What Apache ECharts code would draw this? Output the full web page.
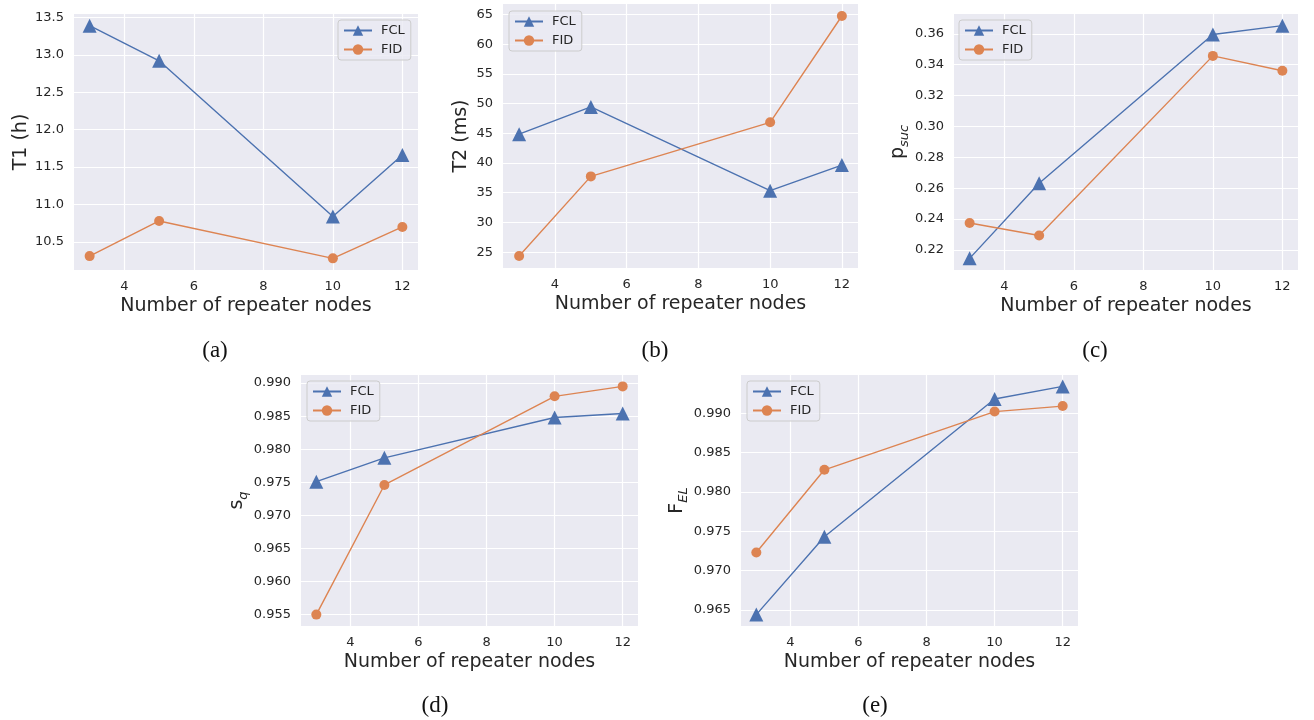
<!DOCTYPE html>
<html>
<head>
<meta charset="utf-8">
<script src="https://cdn.jsdelivr.net/npm/echarts@6/dist/echarts.min.js"></script>
<style>
html,body{margin:0;padding:0;background:#fff;}
#chart{width:1314px;height:720px;}
</style>
</head>
<body>
<div id="chart"></div>
<script>
// ---- data ----
const nodes = [3, 5, 10, 12];
const xTicks = [4, 6, 8, 10, 12];

const t1_FCL = [13.39, 12.92, 10.84, 11.66];
const t1_FID = [10.31, 10.78, 10.28, 10.70];
const t1_ticks = [10.5, 11.0, 11.5, 12.0, 12.5, 13.0, 13.5];

const t2_FCL = [44.85, 49.45, 35.35, 39.65];
const t2_FID = [24.35, 37.75, 46.85, 64.75];
const t2_ticks = [25, 30, 35, 40, 45, 50, 55, 60, 65];

const psuc_FCL = [0.2145, 0.2632, 0.3596, 0.3653];
const psuc_FID = [0.2374, 0.2293, 0.3457, 0.3361];
const psuc_ticks = [0.22, 0.24, 0.26, 0.28, 0.30, 0.32, 0.34, 0.36];

const sq_FCL = [0.9751, 0.9787, 0.9848, 0.9854];
const sq_FID = [0.9550, 0.9746, 0.9880, 0.9895];
const sq_ticks = [0.955, 0.960, 0.965, 0.970, 0.975, 0.980, 0.985, 0.990];

const fel_FCL = [0.9644, 0.9743, 0.9918, 0.9934];
const fel_FID = [0.9723, 0.9828, 0.9902, 0.9909];
const fel_ticks = [0.965, 0.970, 0.975, 0.980, 0.985, 0.990];

const captions = ['(a)', '(b)', '(c)', '(d)', '(e)'];
const seriesNames = ['FCL', 'FID'];

// ---- style ----
const BLUE = '#4C72B0', ORANGE = '#DD8452';
const TXT = '#262626';
const FONT = 'DejaVu Sans';

const panels = [
  {fcl: t1_FCL, fid: t1_FID, ticks: t1_ticks, dec: 1, name: 'T1 (h)',
   grid: {left: 74, top: 14, width: 344, height: 256}, legend: {left: 338, top: 20}, nameGap: 43, cap: [215, 351]},
  {fcl: t2_FCL, fid: t2_FID, ticks: t2_ticks, dec: 0, name: 'T2 (ms)',
   grid: {left: 503, top: 4, width: 355, height: 264}, legend: {left: 509, top: 11}, nameGap: 32, cap: [655, 351]},
  {fcl: psuc_FCL, fid: psuc_FID, ticks: psuc_ticks, dec: 2, name: '{m|p}{s|suc}',
   grid: {left: 954, top: 14, width: 344, height: 256}, legend: {left: 959, top: 20}, nameGap: 42, cap: [1095, 351]},
  {fcl: sq_FCL, fid: sq_FID, ticks: sq_ticks, dec: 3, name: '{m|s}{s|q}',
   grid: {left: 301, top: 375, width: 337, height: 251}, legend: {left: 307, top: 381}, nameGap: 50, cap: [435, 706]},
  {fcl: fel_FCL, fid: fel_FID, ticks: fel_ticks, dec: 3, name: '{m|F}{s|EL}',
   grid: {left: 741, top: 375, width: 337, height: 251}, legend: {left: 747, top: 381}, nameGap: 50, cap: [875, 706]}
];

const grids = [], xAxes = [], yAxes = [], series = [], legends = [], graphics = [];

panels.forEach((p, i) => {
  grids.push(Object.assign({containLabel: false, backgroundColor: '#EAEAF2', show: true, borderWidth: 0}, p.grid));
  xAxes.push({
    type: 'value', gridIndex: i,
    min: 2.55, max: 12.45,
    name: 'Number of repeater nodes', nameLocation: 'middle', nameGap: 27,
    nameTextStyle: {fontFamily: FONT, fontSize: 19, color: TXT},
    axisLine: {show: false}, axisTick: {show: false, customValues: xTicks},
    axisLabel: {customValues: xTicks, fontFamily: FONT, fontSize: 13, color: TXT, margin: 10},
    splitLine: {show: true, lineStyle: {color: '#ffffff', width: 1.2}}
  });
  const all = p.fcl.concat(p.fid);
  const lo = Math.min.apply(null, all), hi = Math.max.apply(null, all);
  const pad = 0.05 * (hi - lo);
  yAxes.push({
    type: 'value', gridIndex: i,
    min: lo - pad, max: hi + pad,
    name: p.name, nameLocation: 'middle', nameRotate: 90, nameGap: p.nameGap,
    nameTextStyle: {fontFamily: FONT, fontSize: 19, color: TXT,
      rich: {
        m: {fontFamily: FONT, fontSize: 19, color: TXT, lineHeight: 26, verticalAlign: 'middle'},
        s: {fontFamily: FONT, fontSize: 13, fontStyle: 'italic', color: TXT, lineHeight: 14, verticalAlign: 'bottom'}
      }},
    axisLine: {show: false}, axisTick: {show: false, customValues: p.ticks},
    axisLabel: {customValues: p.ticks, fontFamily: FONT, fontSize: 13, color: TXT, margin: 10,
      formatter: v => v.toFixed(p.dec)},
    splitLine: {show: true, lineStyle: {color: '#ffffff', width: 1.2}}
  });
  [[p.fcl, 'FCL', BLUE, 'triangle', 14], [p.fid, 'FID', ORANGE, 'circle', 10]].forEach(([vals, nm, col, sym, sz]) => {
    series.push({
      type: 'line', name: nm, xAxisIndex: i, yAxisIndex: i,
      data: nodes.map((x, k) => [x, vals[k]]),
      symbol: sym, symbolSize: sz, showSymbol: true,
      lineStyle: {color: col, width: 1.4},
      itemStyle: {color: col, borderWidth: 0},
      emphasis: {disabled: true}, animation: false
    });
  });
  legends.push({
    left: p.legend.left, top: p.legend.top, orient: 'vertical',
    data: seriesNames,
    itemWidth: 28, itemHeight: 13, itemGap: 6,
    padding: [4, 6, 4, 5],
    backgroundColor: 'rgba(234,234,242,0.8)', borderColor: '#cccccc', borderWidth: 1, borderRadius: 3,
    textStyle: {fontFamily: FONT, fontSize: 13, color: TXT, padding: [0, 0, 0, 4]},
    selectedMode: false
  });
  graphics.push({
    type: 'text', x: p.cap[0], y: p.cap[1],
    style: {text: captions[i], font: '23px "Liberation Serif"', fill: '#111', textAlign: 'center', textVerticalAlign: 'middle'}
  });
});

const chart = echarts.init(document.getElementById('chart'), null, {renderer: 'canvas'});
chart.setOption({
  animation: false,
  backgroundColor: '#ffffff',
  grid: grids, xAxis: xAxes, yAxis: yAxes, series: series, legend: legends,
  graphic: graphics
});
</script>
</body>
</html>
